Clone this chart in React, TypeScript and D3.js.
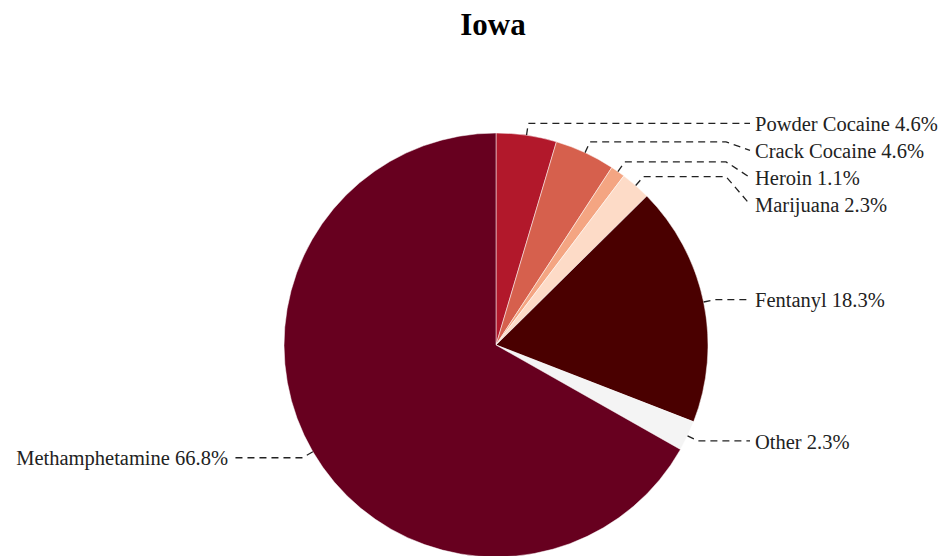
import React, { useRef, useEffect } from 'react';
import * as d3 from 'd3';

const categories = ['Powder Cocaine', 'Crack Cocaine', 'Heroin', 'Marijuana', 'Fentanyl', 'Other', 'Methamphetamine'];
const shares = [4.6, 4.6, 1.1, 2.3, 18.3, 2.3, 66.8];
const colors = ['#b2182b', '#d6604d', '#f4a582', '#fddbc7', '#4a0000', '#f4f4f4', '#67001f'];
const title = 'Iowa';

type Slice = { name: string; value: number; color: string };

const width = 940;
const height = 556;

const App: React.FC = () => {
  const svgRef = useRef<SVGSVGElement>(null);

  useEffect(() => {
    if (!svgRef.current) return;
    const svg = d3.select(svgRef.current);
    svg.selectAll('*').remove();

    const data: Slice[] = categories.map((name, i) => ({ name, value: shares[i], color: colors[i] }));
    const cx = 496;
    const cy = 345;
    const radius = 212;

    const pie = d3.pie<Slice>().sort(null).value(d => d.value);
    const arc = d3.arc<d3.PieArcDatum<Slice>>().innerRadius(0).outerRadius(radius);
    const arcs = pie(data);

    svg.append('text')
      .attr('x', width / 2 + 23)
      .attr('y', 28)
      .attr('text-anchor', 'middle')
      .attr('dominant-baseline', 'middle')
      .style('font-family', '"Liberation Serif", serif')
      .style('font-weight', 'bold')
      .style('font-size', '31px')
      .text(title);

    const g = svg.append('g').attr('transform', `translate(${cx},${cy})`);

    g.selectAll('path')
      .data(arcs)
      .enter().append('path')
      .attr('d', arc)
      .attr('fill', d => d.data.color)
      .attr('stroke', '#fff')
      .attr('stroke-width', 0.5);

    // label anchors
    const outerR = radius * 1.056;
    const items = arcs.map(a => {
      const mid = (a.startAngle + a.endAngle) / 2;
      const inner: [number, number] = [Math.sin(mid) * radius, -Math.cos(mid) * radius];
      const outer: [number, number] = [Math.sin(mid) * outerR, -Math.cos(mid) * outerR];
      const right = mid < Math.PI;
      return { a, inner, outer, right, ly: outer[1] };
    });

    // push overlapping labels down
    const gap = 27;
    [true, false].forEach(side => {
      const group = items.filter(d => d.right === side).sort((p, q) => p.ly - q.ly);
      for (let i = 1; i < group.length; i++) {
        if (group[i].ly < group[i - 1].ly + gap) group[i].ly = group[i - 1].ly + gap;
      }
    });

    const rightX = 755 - cx;
    const leftX = 228 - cx;

    items.forEach(d => {
      const endX = d.right ? rightX - 5 : leftX + 6;
      const bendX = d.right ? endX - 24 : endX + 24;
      const pts: [number, number][] = [d.inner, d.outer, [bendX, d.outer[1]], [endX, d.ly]];
      g.append('path')
        .attr('d', d3.line()(pts))
        .attr('fill', 'none')
        .attr('stroke', '#222')
        .attr('stroke-width', 1.3)
        .attr('stroke-dasharray', '7,5');

      g.append('text')
        .attr('x', d.right ? rightX : leftX)
        .attr('y', d.ly + 3)
        .attr('text-anchor', d.right ? 'start' : 'end')
        .attr('dominant-baseline', 'middle')
        .attr('fill', '#222')
        .style('font-family', '"Liberation Serif", serif')
        .style('font-size', '20.5px')
        .text(`${d.a.data.name} ${d.a.data.value.toFixed(1)}%`);
    });
  }, []);

  return (
    <div style={{ position: 'absolute', left: 0, top: 0 }}>
      <svg ref={svgRef} width={width} height={height} style={{ display: 'block', background: '#fff' }} />
    </div>
  );
};

export default App;
